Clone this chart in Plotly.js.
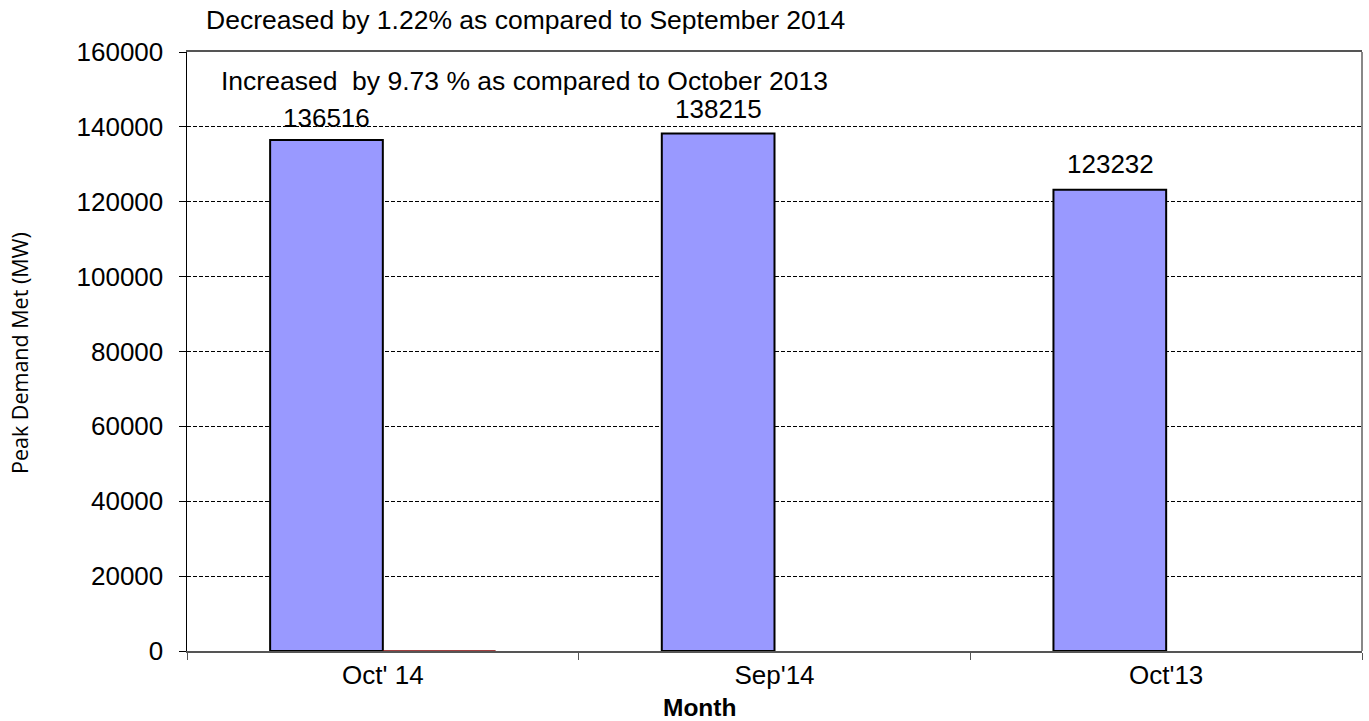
<!DOCTYPE html>
<html>
<head>
<meta charset="utf-8">
<script src="https://cdn.plot.ly/plotly-3.0.1.min.js"></script>
<style>html,body{margin:0;padding:0;background:#fff;}#chart{width:1369px;height:721px;}</style>
</head>
<body>
<div id="chart"></div>
<script>
var months = ["Oct' 14", "Sep'14", "Oct'13"];
var peakDemand = [136516, 138215, 123232];
var secondSeries = [0, null, null];
var labelShift = [22, 25, 26];
var notes = ["Decreased by 1.22% as compared to September 2014", "Increased  by 9.73 % as compared to October 2013"];
var yTitle = 'Peak Demand Met (MW)';
var xTitle = 'Month';

var F = 'Arial, Liberation Sans, sans-serif';
var traces = [
  {
    type: 'bar', x: months, y: peakDemand,
    marker: {color: '#9999FF', line: {color: '#000000', width: 2}},
    hoverinfo: 'x+y', showlegend: false
  },
  {
    type: 'bar', x: months, y: secondSeries,
    marker: {color: '#993366', line: {color: '#800000', width: 1}},
    hoverinfo: 'x+y', showlegend: false
  }
];

var annotations = peakDemand.map(function (v, i) {
  return {
    x: months[i], y: v, xref: 'x', yref: 'y', text: String(v), showarrow: false,
    xshift: -56, yshift: labelShift[i],
    font: {family: F, size: 26, color: '#000'}
  };
});
annotations.push({
  xref: 'paper', yref: 'paper', x: (525 - 187) / 1175, y: 1 + 32 / 599, xanchor: 'center', yanchor: 'middle',
  text: notes[0], showarrow: false, font: {family: F, size: 26.5, color: '#000'}
});
annotations.push({
  xref: 'paper', yref: 'paper', x: (524 - 187) / 1175, y: 1 - 29 / 599, xanchor: 'center', yanchor: 'middle',
  text: notes[1], showarrow: false, font: {family: F, size: 26.5, color: '#000'}
});
annotations.push({
  xref: 'paper', yref: 'paper', x: (699 - 187) / 1175, y: -56 / 599, xanchor: 'center', yanchor: 'middle',
  text: '<b>' + xTitle + '</b>', showarrow: false, font: {family: F, size: 24.5, color: '#000'}
});
annotations.push({
  xref: 'paper', yref: 'paper', x: (19 - 187) / 1175, y: (651 - 353) / 599, xanchor: 'center', yanchor: 'middle',
  text: yTitle, textangle: -90, showarrow: false,
  font: {family: 'Open Sans, Noto Sans, sans-serif', size: 21.5, color: '#000'}
});

var layout = {
  width: 1369, height: 721,
  margin: {l: 187, r: 7, t: 52, b: 70, pad: 0},
  paper_bgcolor: '#ffffff', plot_bgcolor: '#ffffff',
  barmode: 'group', bargap: 0.4245, bargroupgap: 0,
  font: {family: F, size: 26, color: '#000'},
  xaxis: {
    type: 'category', showgrid: false, zeroline: false,
    showline: true, linecolor: '#555555', linewidth: 2, mirror: true,
    ticks: 'outside', tickson: 'boundaries', ticklen: 7, tickcolor: '#555555', tickwidth: 1,
    tickfont: {family: F, size: 26, color: '#000'}
  },
  yaxis: {
    range: [0, 160000], dtick: 20000, tickformat: 'd',
    showgrid: true, gridcolor: '#000000', griddash: '4px,2px', gridwidth: 1,
    zeroline: false, showline: true, linecolor: '#000000', linewidth: 1.5,
    ticks: 'outside', ticklen: 7, tickcolor: '#000', tickwidth: 1, ticklabelstandoff: 10,
    tickfont: {family: F, size: 26, color: '#000'}
  },
  shapes: [
    {type: 'line', xref: 'paper', yref: 'paper', x0: 1, x1: 1, y0: 0, y1: 1, line: {color: '#888888', width: 2}}
  ],
  annotations: annotations
};

Plotly.newPlot('chart', traces, layout, {displayModeBar: false, staticPlot: true});
</script>
</body>
</html>
